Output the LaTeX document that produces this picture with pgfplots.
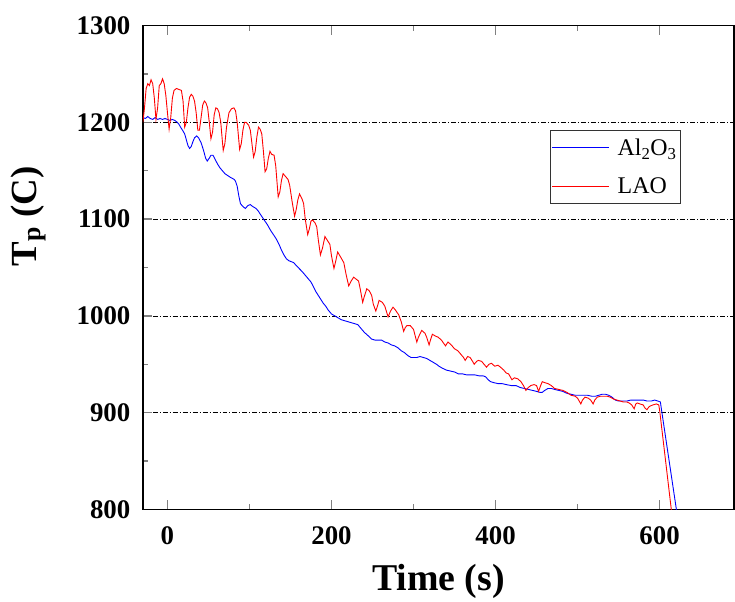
\documentclass[border=0pt]{standalone}
\usepackage{fontspec}
\setmainfont{Liberation Serif}
\usepackage{pgfplots}
\pgfplotsset{compat=1.18}
\begin{document}
\begin{tikzpicture}
\begin{axis}[
  scale only axis,
  width=594pt, height=486pt,
  at={(0pt,0pt)}, anchor=south west,
  xmin=-30, xmax=691, ymin=800, ymax=1300,
  axis line style={line width=1.6pt},
  xtick pos=both, ytick pos=left,
  xtick={0,200,400,600}, minor xtick={100,300,500},
  ytick={800,900,1000,1100,1200,1300}, minor ytick={850,950,1050,1150,1250},
  tick align=inside,
  major tick length=9pt, minor tick length=5pt,
  major tick style={line width=1.5pt},
  minor tick style={line width=1.5pt},
  /pgf/number format/assume math mode=true,
  /pgf/number format/1000 sep={},
  tick label style={font=\fontsize{27}{27}\selectfont\bfseries},
  xticklabel style={yshift=-14pt},
  yticklabel style={xshift=-9pt},
  ymajorgrids,
  major grid style={draw=black, line width=0.7pt, dash pattern=on 5pt off 2pt on 1pt off 2pt},
  xlabel={Time (s)},
  ylabel={T\textsubscript{p} (C)},
  xlabel style={font=\fontsize{38}{38}\selectfont\bfseries, at={(axis description cs:0.5,-0.148)}, anchor=center},
  ylabel style={font=\fontsize{37}{37}\selectfont\bfseries, at={(axis description cs:-0.194,0.606)}, anchor=center},
  legend style={at={(axis description cs:0.6877,0.7833)}, anchor=north west,
    draw=black!80, line width=0.9pt, font=\fontsize{24}{24}\selectfont,
    inner xsep=2pt, inner ysep=6pt, row sep=17pt, cells={anchor=west},
    /tikz/every odd column/.append style={column sep=7pt}},
]
\addlegendimage{legend image code/.code={\fill[fill=blue, draw=none] (0pt,-0.6pt) rectangle (57pt,0.6pt);}}
\addlegendentry{Al\textsubscript{2}O\textsubscript{3}}
\addlegendimage{legend image code/.code={\fill[fill=red, draw=none] (0pt,-0.6pt) rectangle (57pt,0.6pt);}}
\addlegendentry{LAO}
\addplot[draw=blue, line width=0.9pt, forget plot] coordinates {
(-30,1205) (-27,1204) (-24,1206) (-21,1204) (-18,1203) (-15,1205) (-12,1203) (-9,1204) (-6,1203) (-3,1204)
(0,1203) (3,1202) (6,1203) (9,1202) (12,1200) (14,1198) (16,1195) (19,1191) (21,1188) (23,1182)
(25,1176) (27,1173) (29,1175) (31,1180) (33,1184) (35.5,1186) (38,1184) (41,1179) (44,1171) (46.5,1163)
(48.5,1160) (51,1163) (53,1166) (55.5,1166) (58,1162) (61,1157) (64,1153) (67,1150) (70,1147) (73.5,1145)
(77,1143) (81.5,1141) (83,1139) (85,1134) (87,1124) (89,1116) (92,1113) (95,1111) (98,1114) (101,1115)
(104,1113) (108,1111) (111,1108) (114,1104) (118,1099) (122,1094) (126,1088) (130,1083) (133,1079) (136,1074)
(139,1068) (142,1063) (145,1059) (148,1057) (151,1056) (154,1055) (157,1052) (160.5,1049) (164,1046) (168,1042)
(172,1038) (175,1035) (178,1030) (181,1025) (184,1021) (187,1017) (190,1013) (193,1010) (196,1006) (200,1002)
(204,1000) (208,998) (212,996) (216,995) (220,994) (224,993) (228,992) (232,991) (236,987) (240,983)
(244,980) (249,976) (253,975) (257,975) (261,975) (265,973) (269,972) (273,970) (277,969) (281,967)
(285,964) (289,962) (293,959) (297,957) (300,957) (304,957) (308,958) (312,957) (316,956) (320,954)
(324,952) (328,950) (331,948) (335,946) (340,944) (345,943) (350,942) (355,940) (360,940) (365,939)
(370,939) (375,939) (380,938) (385,938) (388,937) (391,934) (394,932) (398,931) (403,930) (408,930)
(413,929) (419,928) (425,928) (430,926) (435,925) (440,924) (445,923) (450,922) (454,921) (457,921)
(460,923) (464,925) (468,925) (472,924) (477,923) (482,922) (487,920) (492,919) (497,918) (502,918)
(507,918) (512,918) (517,917) (522,917) (526,918) (530,919) (534,919) (538,918) (542,916) (546,913)
(550,912) (555,912) (560,912) (565,913) (570,913) (575,913) (580,913) (585,912) (590,912) (594,913)
(598,912) (601,911) (602,905) (620.5,800) (622,790)
};
\addplot[draw=red, line width=0.9pt, forget plot] coordinates {
(-30,1200) (-28,1215) (-26,1235) (-24,1240) (-22,1238) (-20,1244) (-18,1240) (-16,1225) (-14,1203) (-12,1215)
(-10,1238) (-8,1240) (-6,1245) (-4,1240) (-2,1228) (0,1210) (2,1193) (4,1205) (6,1225) (8,1233)
(11,1235) (14,1234) (17,1233) (19,1222) (21,1195) (23,1200) (25,1215) (27,1226) (29,1229) (31,1227)
(33,1222) (35,1210) (37,1192) (39,1192) (41,1205) (43,1218) (45,1222) (47,1220) (49,1215) (51,1200)
(53,1183) (55,1190) (57,1208) (59,1215) (61,1214) (63,1210) (65,1200) (67,1180) (68,1171) (70,1178)
(72,1195) (75,1210) (78,1214) (81,1215) (83,1212) (85,1200) (88,1172) (90,1178) (92,1192) (94,1200)
(96,1200) (99,1197) (101,1192) (103,1178) (105,1164) (107,1170) (109,1185) (111,1195) (113,1193) (115,1188)
(117,1170) (119,1149) (121,1152) (123,1163) (125,1170) (127,1167) (130,1166) (132,1155) (135,1123) (137,1128)
(139,1140) (141,1147) (144,1144) (147,1141) (149,1135) (152,1118) (155,1103) (157,1110) (159,1120) (161,1126)
(164,1121) (166,1116) (168,1100) (171,1084) (173,1090) (175,1098) (177,1099) (180,1096) (182,1092) (184,1078)
(186.5,1063) (189,1070) (192,1082) (195,1078) (198,1074) (200,1062) (203,1049) (205,1056) (207.5,1066) (211,1061)
(215,1055) (218,1042) (221,1031) (224,1036) (227,1040) (230,1038) (233,1036) (235,1028) (238,1014) (240,1020)
(243,1028) (246,1026) (249,1021) (251,1012) (254,1005) (256,1010) (258,1016) (262,1014) (265,1010) (269,999)
(272,1005) (275,1009) (278,1006) (282,1001) (285,994) (288,984) (290,988) (292,990) (296,990) (300,986)
(304,973) (306,978) (310,985) (314,982) (316,978) (319,970) (321,976) (323,981) (327,979) (330,978)
(334,975) (339,969) (342,973) (346,970) (350,966) (354,964) (358,960) (361,957) (363,954) (366,958)
(369,957) (372,953) (374,950) (377,953) (379,954) (383,953) (386,950) (389,947) (392,950) (395,951)
(399,948) (403,949) (406,947) (410,944) (413,941) (416,940) (418,937) (420,934) (423,936) (427,935)
(431,932) (434,928) (437,923) (440,926) (443,928) (447,929) (450,928) (452.5,922) (455,928) (457,932)
(460,931) (464,930) (468,928) (472,925) (477,924) (482,923) (487,921) (492,918) (497,917) (500,915)
(502,912) (504,909) (506,913) (509,916) (513,915) (516,913) (519,909) (521,913) (524,916) (528,917)
(532,917) (536,917) (540,916) (544,914) (548,913) (552,912) (556,911) (560,911) (563,910) (566,908)
(569,904) (571,909) (573,910) (576,909) (580,908) (582,905) (584.6,903) (587,906) (589,907) (592,908)
(596,909) (599,908) (600,903) (614.3,800) (616,788)
};
\end{axis}
\path[use as bounding box] (-143.5pt,-92.3pt) rectangle (591.5pt,511.7pt);
\end{tikzpicture}
\end{document}
